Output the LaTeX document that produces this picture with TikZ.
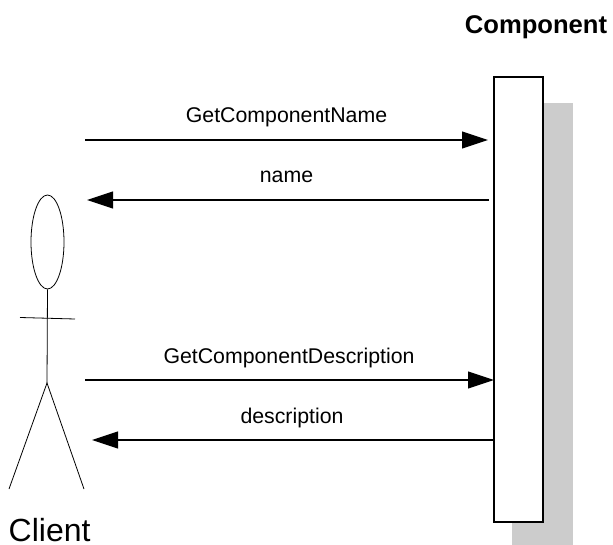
\documentclass[tikz,border=0pt]{standalone}
\usepackage{fontspec}
\setmainfont{Liberation Sans}
\usetikzlibrary{arrows.meta,shapes.geometric}
\tikzset{
  msg/.style={-{Triangle[length=26pt,width=17pt]},line width=1.1pt,black},
  lbl/.style={inner sep=0pt,anchor=base,font=\fontsize{21.3pt}{24pt}\selectfont},
  limb/.style={line width=0.8pt,black},
  lifebox/.style={draw=black,fill=white,line width=1.3pt,inner sep=0pt,minimum width=49pt,minimum height=445pt},
  shadowbox/.style={fill=black!20,draw=none,inner sep=0pt,minimum width=61pt,minimum height=442pt},
  headshape/.style={ellipse,draw=black,line width=0.8pt,inner sep=0pt,minimum width=33pt,minimum height=94pt}
}
\begin{document}
\begin{tikzpicture}[x=1pt,y=-1pt]
\useasboundingbox (0,0) rectangle (613,545);
\node[shadowbox] (shadow) at (542.5,324) {};
\node[lifebox] (comp) at (518.5,299.5) {};
\node[inner sep=0pt,anchor=base,font=\bfseries\fontsize{25.6pt}{28pt}\selectfont] (title) at (536,33.3) {Component};
\node[headshape] (head) at (47.5,242) {};
\coordinate (hip) at (47,383);
\coordinate (armL) at (20,317.5);
\coordinate (armR) at (75,319);
\coordinate (footL) at (9,489);
\coordinate (footR) at (84,489);
\draw[limb] (head.south) -- (hip);
\draw[limb] (armL) -- (armR);
\draw[limb] (footL) -- (hip) -- (footR);
\node[inner sep=0pt,anchor=base west,font=\fontsize{32pt}{35pt}\selectfont] (client) at (8.5,541.7) {Client};
\coordinate (a1s) at (85,140);
\coordinate (a1e) at (488,140);
\coordinate (a2s) at (489,200);
\coordinate (a2e) at (87,200);
\coordinate (a3s) at (85,380);
\coordinate (a3e) at (494,380);
\coordinate (a4s) at (494,440);
\coordinate (a4e) at (92,440);
\draw[msg] (a1s) -- (a1e);
\draw[msg] (a2s) -- (a2e);
\draw[msg] (a3s) -- (a3e);
\draw[msg] (a4s) -- (a4e);
\node[lbl] (l1) at (286.5,122.5) {GetComponentName};
\node[lbl] (l2) at (286.5,182.2) {name};
\node[lbl] (l3) at (289,363.2) {GetComponentDescription};
\node[lbl] (l4) at (292,423.2) {description};
\end{tikzpicture}
\end{document}
